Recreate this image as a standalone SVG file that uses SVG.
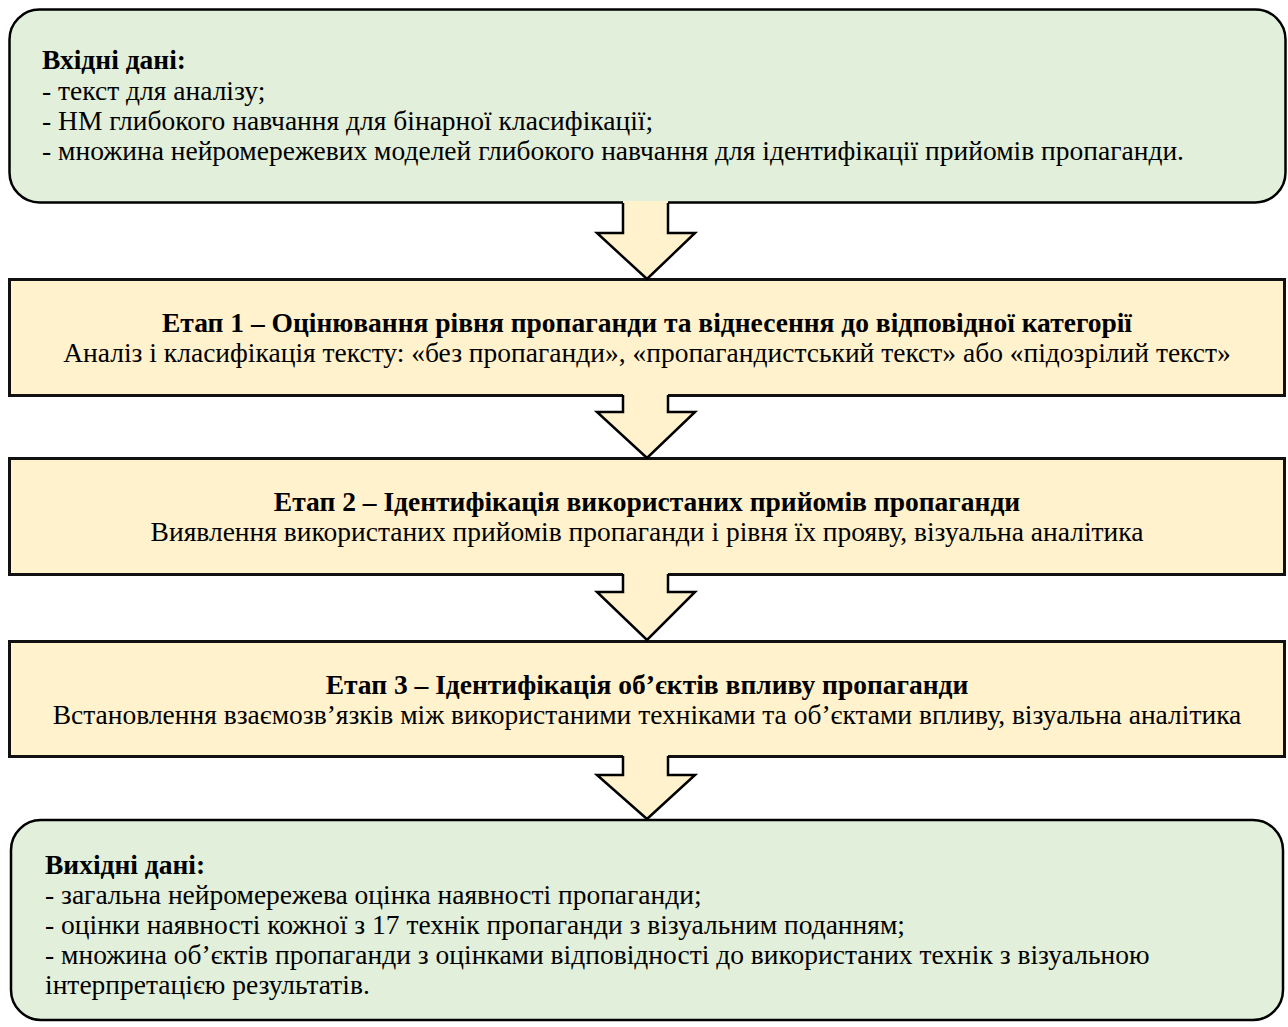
<svg xmlns="http://www.w3.org/2000/svg" width="1288" height="1027" viewBox="0 0 1288 1027">
<style>
.io{fill:#e2efda;stroke:#000;stroke-width:2.5}
.st{fill:#fff2cc;stroke:#111;stroke-width:3}
.t{font-family:"Liberation Serif","Times New Roman",serif;font-size:27.5px;fill:#000}
.b{font-weight:bold}
.c{text-anchor:middle}
.af{fill:#fff2cc;stroke:none}
.as{fill:none;stroke:#000;stroke-width:2.5;stroke-linejoin:miter}
</style>
<rect width="1288" height="1027" fill="#fff"/>
<g id="input">
<rect class="io" x="9.5" y="9.5" width="1276" height="193" rx="30"/>
<text class="t b" x="42" y="69">Вхідні дані:</text>
<text class="t" x="42" y="100">- текст для аналізу;</text>
<text class="t" x="42" y="130">- НМ глибокого навчання для бінарної класифікації;</text>
<text class="t" x="42" y="160">- множина нейромережевих моделей глибокого навчання для ідентифікації прийомів пропаганди.</text>
</g>
<g id="stage1">
<rect class="st" x="9.5" y="279.5" width="1275" height="116"/>
<text class="t b c" x="647" y="332">Етап 1 – Оцінювання рівня пропаганди та віднесення до відповідної категорії</text>
<text class="t c" x="647" y="362">Аналіз і класифікація тексту: «без пропаганди», «пропагандистський текст» або «підозрілий текст»</text>
</g>
<g id="stage2">
<rect class="st" x="9.5" y="458.5" width="1275" height="116"/>
<text class="t b c" x="647" y="511">Етап 2 – Ідентифікація використаних прийомів пропаганди</text>
<text class="t c" x="647" y="541">Виявлення використаних прийомів пропаганди і рівня їх прояву, візуальна аналітика</text>
</g>
<g id="stage3">
<rect class="st" x="9.5" y="641.5" width="1275" height="115"/>
<text class="t b c" x="647" y="694">Етап 3 – Ідентифікація об’єктів впливу пропаганди</text>
<text class="t c" x="647" y="724">Встановлення взаємозв’язків між використаними техніками та об’єктами впливу, візуальна аналітика</text>
</g>
<g id="output">
<rect class="io" x="11" y="820" width="1272" height="200" rx="30"/>
<text class="t b" x="45" y="874">Вихідні дані:</text>
<text class="t" x="45" y="904">- загальна нейромережева оцінка наявності пропаганди;</text>
<text class="t" x="45" y="934">- оцінки наявності кожної з 17 технік пропаганди з візуальним поданням;</text>
<text class="t" x="45" y="964">- множина об’єктів пропаганди з оцінками відповідності до використаних технік з візуальною</text>
<text class="t" x="45" y="994">інтерпретацією результатів.</text>
</g>
<g id="connectors">
<polygon class="af" points="623,201 668,201 668,233 695,233 647,279 597,233 623,233"/>
<polyline class="as" points="623,203 623,233 597,233 647,279 695,233 668,233 668,203"/>
<polygon class="af" points="623,393 668,393 668,412 695,412 647,458 597,412 623,412"/>
<polyline class="as" points="623,395 623,412 597,412 647,458 695,412 668,412 668,395"/>
<polygon class="af" points="623,572 668,572 668,592 695,592 647,640 597,592 623,592"/>
<polyline class="as" points="623,574 623,592 597,592 647,640 695,592 668,592 668,574"/>
<polygon class="af" points="623,754 668,754 668,775 695,775 647,819 597,775 623,775"/>
<polyline class="as" points="623,756 623,775 597,775 647,819 695,775 668,775 668,756"/>
</g>
</svg>
